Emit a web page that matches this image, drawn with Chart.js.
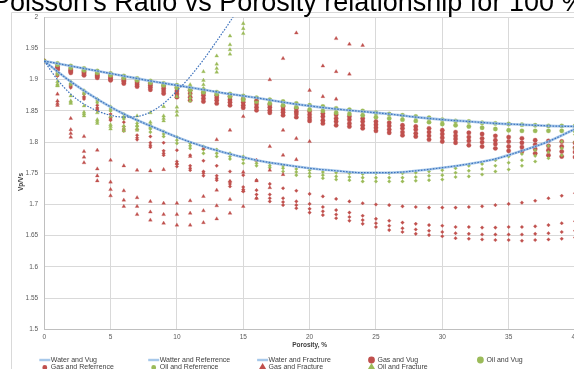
<!DOCTYPE html>
<html>
<head>
<meta charset="utf-8">
<script src="https://cdn.jsdelivr.net/npm/chart.js@4.4.1/dist/chart.umd.min.js"></script>
<style>
  html, body { margin: 0; padding: 0; background: #fff; overflow: hidden; width: 574px; height: 369px; }
  #wrap { position: absolute; left: 0; top: 0; width: 640px; height: 369px; }
</style>
</head>
<body>
<div id="wrap"><canvas id="chart" width="640" height="369"></canvas></div>
<script>
const titleText = "Poisson's Ratio vs Porosity relationship for 100 %";
const xTitle = 'Porosity, %';
const yTitle = 'Vp/Vs';

const xTicks = [0, 5, 10, 15, 20, 25, 30, 35, 40];
const yTicks = [1.5, 1.55, 1.6, 1.65, 1.7, 1.75, 1.8, 1.85, 1.9, 1.95, 2];

// porosity columns for the scatter series
const porosity = [0,1,2,3,4,5,6,7,8,9,10,11,12,13,14,15,16,17,18,19,20,
  21,22,23,24,25,26,27,28,29,30,31,32,33,34,35,36,37,38,39,40];

// water curves
const curveX = [0,2,4,6,8,10,12,14,16,18,20,22,24,26,28,30,32,34,36,38,40];
const waterVug = [1.930,1.922,1.914,1.906,1.898,1.891,1.884,1.877,1.871,1.864,1.858,
  1.853,1.849,1.845,1.840,1.836,1.833,1.830,1.828,1.826,1.825];
const waterRef = [1.930,1.897,1.869,1.845,1.826,1.808,1.793,1.781,1.771,1.764,1.758,
  1.754,1.751,1.751,1.754,1.759,1.765,1.773,1.786,1.801,1.821];
const fracX = [0,1,2,3,4,5,6,7,8,9,10,11,12,13,14,15];
const waterFrac = [1.930,1.900,1.877,1.861,1.850,1.843,1.840,1.841,1.848,1.862,1.882,
  1.905,1.932,1.962,1.993,2.026];

// one row of Vp/Vs values per porosity column
const oilVug = [
  [1.930],[1.926,1.924],[1.922,1.919],[1.918,1.915],[1.914,1.911],[1.910,1.907],
  [1.906,1.903],[1.902,1.899],[1.898,1.895],[1.894,1.891],[1.891,1.887],
  [1.887,1.883],[1.884,1.880],[1.880,1.877],[1.877,1.873],[1.874,1.868],
  [1.871,1.865],[1.868,1.862],[1.865,1.859],[1.862,1.856],[1.859,1.852],
  [1.857,1.850],[1.854,1.847],[1.852,1.845],[1.850,1.843],[1.847,1.840],
  [1.845,1.838],[1.843,1.836],[1.841,1.834],[1.839,1.832],[1.836,1.829],
  [1.834,1.827],[1.833,1.825],[1.831,1.823],[1.830,1.821],[1.829,1.819],
  [1.828,1.818],[1.827,1.818],[1.826,1.818],[1.826,1.818],[1.826,1.818]
];
const gasVug = [
  [1.930],
  [1.921,1.919,1.917,1.916],[1.917,1.915,1.913,1.911],[1.913,1.911,1.909,1.907],
  [1.909,1.907,1.905,1.903],[1.906,1.903,1.901,1.899],[1.902,1.899,1.897,1.894],
  [1.898,1.895,1.892,1.889],[1.894,1.891,1.888,1.884],[1.890,1.886,1.882,1.878],
  [1.887,1.882,1.877,1.872],[1.883,1.878,1.872,1.867],[1.879,1.875,1.870,1.865],
  [1.875,1.871,1.867,1.862],[1.873,1.868,1.864,1.859],[1.869,1.864,1.859,1.855],
  [1.866,1.861,1.856,1.851],[1.860,1.856,1.851,1.847],[1.857,1.852,1.848,1.843],
  [1.854,1.849,1.845,1.840],[1.849,1.844,1.839,1.834],[1.846,1.841,1.835,1.830],
  [1.844,1.838,1.833,1.827],[1.841,1.836,1.830,1.825],[1.838,1.833,1.827,1.822],
  [1.833,1.828,1.823,1.818],[1.831,1.826,1.820,1.815],[1.827,1.822,1.816,1.811],
  [1.825,1.820,1.814,1.809],[1.822,1.816,1.810,1.804],[1.819,1.813,1.807,1.801],
  [1.816,1.810,1.805,1.799],[1.815,1.808,1.802,1.795],[1.813,1.806,1.800,1.793],
  [1.810,1.803,1.797,1.790],[1.808,1.801,1.793,1.786],[1.806,1.799,1.792,1.785],
  [1.803,1.796,1.789,1.782],[1.802,1.794,1.787,1.779],[1.801,1.793,1.785,1.777],
  [1.799,1.791,1.784,1.776]
];
const oilRef = [
  [1.930],
  [1.912,1.910,1.908],[1.897,1.894,1.892],[1.883,1.880,1.877],[1.869,1.866,1.863],
  [1.857,1.853,1.850],[1.845,1.841,1.837],[1.835,1.830,1.826],[1.826,1.821,1.816],
  [1.817,1.813,1.809],[1.808,1.803,1.798],[1.798,1.794,1.790],[1.793,1.788,1.782],
  [1.788,1.782,1.777],[1.782,1.777,1.773],[1.777,1.772,1.766],[1.770,1.766,1.762],
  [1.766,1.762,1.759],[1.762,1.758,1.753],[1.757,1.752,1.747],[1.755,1.750,1.745],
  [1.752,1.747,1.742],[1.751,1.745,1.740],[1.750,1.744,1.739],[1.749,1.743,1.737],
  [1.750,1.743,1.737],[1.750,1.743,1.737],[1.750,1.743,1.737],[1.751,1.744,1.738],
  [1.753,1.746,1.739],[1.755,1.747,1.740],[1.758,1.751,1.744],[1.762,1.754,1.745],
  [1.765,1.757,1.748],[1.771,1.762,1.753],[1.777,1.767,1.756],[1.781,1.771,1.762],
  [1.787,1.778,1.769],[1.794,1.784,1.774],[1.801,1.790,1.779],[1.812,1.800,1.790]
];
const gasRef = [
  [1.930],
  [1.910,1.908,1.907,1.906],[1.893,1.891,1.889,1.887],[1.877,1.873,1.871,1.869],
  [1.859,1.855,1.853,1.851],[1.845,1.840,1.837,1.835],[1.832,1.825,1.821,1.818],
  [1.820,1.811,1.807,1.804],[1.809,1.799,1.795,1.792],[1.799,1.786,1.782,1.779],
  [1.787,1.769,1.765,1.761],[1.779,1.762,1.758,1.755],[1.770,1.753,1.750,1.746],
  [1.762,1.746,1.742,1.739],[1.753,1.737,1.733,1.729],[1.747,1.728,1.724,1.721],
  [1.739,1.723,1.716,1.710],[1.733,1.716,1.710,1.705],[1.726,1.710,1.704,1.699],
  [1.722,1.705,1.699,1.694],[1.717,1.701,1.693,1.687],[1.713,1.696,1.689,1.683],
  [1.709,1.691,1.684,1.678],[1.705,1.687,1.680,1.674],[1.702,1.682,1.675,1.669],
  [1.700,1.677,1.670,1.664],[1.699,1.674,1.666,1.659],[1.697,1.671,1.662,1.656],
  [1.696,1.669,1.660,1.653],[1.695,1.667,1.658,1.651],[1.695,1.666,1.656,1.649],
  [1.695,1.664,1.654,1.646],[1.696,1.664,1.653,1.645],[1.697,1.663,1.652,1.644],
  [1.699,1.663,1.652,1.643],[1.701,1.664,1.652,1.643],[1.703,1.664,1.652,1.642],
  [1.706,1.665,1.653,1.643],[1.710,1.667,1.654,1.644],[1.714,1.670,1.656,1.645],
  [1.718,1.673,1.658,1.647]
];
const oilFrac = [
  [1.930],
  [1.897,1.893,1.891,1.890],[1.874,1.866,1.864,1.862],[1.858,1.848,1.845,1.842],
  [1.847,1.836,1.833,1.830],[1.841,1.828,1.825,1.821],[1.840,1.826,1.822,1.818],
  [1.842,1.826,1.822,1.819],[1.847,1.832,1.828,1.824],[1.857,1.842,1.838,1.834],
  [1.873,1.856,1.849,1.843],[1.892,1.877,1.871,1.866],[1.913,1.899,1.892,1.886],
  [1.938,1.925,1.918,1.912],[1.970,1.956,1.948,1.941],[1.990,1.982,1.974]
];
const gasFrac = [
  [1.930],
  [1.877,1.866,1.862,1.859],[1.838,1.820,1.814,1.808],[1.809,1.785,1.776,1.767],
  [1.787,1.757,1.746,1.738],[1.771,1.736,1.724,1.714],[1.762,1.722,1.707,1.697],
  [1.755,1.711,1.697,1.684],[1.754,1.705,1.688,1.675],[1.756,1.702,1.684,1.670],
  [1.766,1.702,1.684,1.667],[1.777,1.706,1.686,1.667],[1.790,1.713,1.690,1.671],
  [1.804,1.723,1.698,1.677],[1.819,1.737,1.708,1.686],[1.841,1.752,1.722,1.697],
  [1.868,1.771,1.738,1.710],[1.900,1.793,1.755,1.727],[1.934,1.819,1.779,1.748],
  [1.975,1.849,1.806,1.772],[1.883,1.837,1.801],[1.922,1.873,1.834],
  [1.966,1.913,1.869],[1.957,1.909],[1.955]
];

const legendRows = [
  ['Water and Vug', 'Watter and Referrence', 'Water and Fractrure', 'Gas and Vug', 'Oil and Vug'],
  ['Gas and Referrence', 'Oil and Referrence', 'Gas and Fracture', 'Oil and Fracture']
];

const RED = '#C0504D';
const GREEN = '#9BBB59';
const HALO = 'rgba(150,190,230,0.85)';
const DOT = '#3F73BD';
const FONT = '"Liberation Sans", Arial, sans-serif';

function toPoints(xs, rows) {
  const pts = [];
  rows.forEach((r, i) => r.forEach(v => pts.push({ x: xs[i], y: v })));
  return pts;
}
function toLine(xs, ys) {
  return ys.map((v, i) => ({ x: xs[i], y: v }));
}

function lineSet(label, xs, ys, halo) {
  return {
    label, data: toLine(xs, ys), showLine: true, pointRadius: 0,
    borderColor: halo ? HALO : DOT, borderWidth: halo ? 2.6 : 1.2,
    borderDash: halo ? [] : [1.6, 1.4], cubicInterpolationMode: 'monotone'
  };
}
function markSet(label, rows, color, style, r) {
  return {
    label, data: toPoints(porosity, rows), showLine: false,
    pointStyle: style, pointRadius: r, backgroundColor: color,
    borderColor: color, borderWidth: 0.3
  };
}

// legend symbol for each label
const legendStyle = {
  'Water and Vug': ['line'], 'Watter and Referrence': ['line'], 'Water and Fractrure': ['line'],
  'Gas and Vug': ['circle', RED, 2.2], 'Oil and Vug': ['circle', GREEN, 2.2],
  'Gas and Referrence': ['circle', RED, 1.2], 'Oil and Referrence': ['circle', GREEN, 1.2],
  'Gas and Fracture': ['triangle', RED, 2.2], 'Oil and Fracture': ['triangle', GREEN, 2.2]
};

const decor = {
  id: 'decor',
  beforeDraw(chart) {
    const c = chart.ctx;
    c.save();
    c.strokeStyle = '#d9d9d9';
    c.lineWidth = 1;
    c.beginPath();
    c.moveTo(11.5, 369); c.lineTo(11.5, 12.5); c.lineTo(640, 12.5);
    c.stroke();
    c.restore();
  },
  afterDraw(chart) {
    const c = chart.ctx;
    const a = chart.chartArea;
    c.save();
    // title (partly outside the picture, as in the source)
    c.fillStyle = '#000';
    c.font = '27px ' + FONT;
    c.textAlign = 'left';
    c.textBaseline = 'alphabetic';
    c.fillText(titleText, -8, 11);

    // axis titles
    c.fillStyle = '#404040';
    c.font = 'bold 6.5px ' + FONT;
    c.textAlign = 'center';
    c.textBaseline = 'middle';
    c.fillText(xTitle, (a.left + a.right) / 2, 345.5);
    c.save();
    c.translate(21, 182);
    c.rotate(-Math.PI / 2);
    c.fillText(yTitle, 0, 0);
    c.restore();

    // legend grid
    c.font = '7px ' + FONT;
    c.textAlign = 'left';
    const rowY = [360, 367.5];
    legendRows.forEach((row, ri) => {
      row.forEach((label, ci) => {
        const x0 = 39.3 + ci * 108.9;
        const y = rowY[ri];
        const st = legendStyle[label];
        if (st[0] === 'line') {
          c.strokeStyle = HALO;
          c.lineWidth = 2.4;
          c.beginPath(); c.moveTo(x0, y); c.lineTo(x0 + 11, y); c.stroke();
        } else {
          c.fillStyle = st[1];
          c.strokeStyle = st[1];
          Chart.helpers.drawPoint(c, { pointStyle: st[0], radius: st[2], rotation: 0, borderWidth: 0.3 }, x0 + 5.5, y);
        }
        c.fillStyle = '#404040';
        c.fillText(label, x0 + 11.5, y);
      });
    });
    c.restore();
  }
};

Chart.defaults.font.family = FONT;

new Chart(document.getElementById('chart'), {
  type: 'scatter',
  data: {
    datasets: [
      lineSet('Water and Vug trend', curveX, waterVug, false),
      lineSet('Watter and Referrence trend', curveX, waterRef, false),
      lineSet('Water and Fractrure', fracX, waterFrac, false),
      lineSet('Water and Vug', curveX, waterVug, true),
      lineSet('Watter and Referrence', curveX, waterRef, true),
      markSet('Oil and Fracture', oilFrac, GREEN, 'triangle', 2.2),
      markSet('Gas and Fracture', gasFrac, RED, 'triangle', 2.2),
      markSet('Oil and Referrence', oilRef, GREEN, 'rectRot', 1.8),
      markSet('Gas and Referrence', gasRef, RED, 'rectRot', 1.8),
      markSet('Oil and Vug', oilVug, GREEN, 'circle', 2.2),
      markSet('Gas and Vug', gasVug, RED, 'circle', 2.2)
    ]
  },
  options: {
    responsive: false,
    devicePixelRatio: 1,
    animation: false,
    events: [],
    layout: { padding: { top: 17.3, right: 65, bottom: 0, left: 0 } },
    plugins: { legend: { display: false }, tooltip: { enabled: false }, title: { display: false } },
    scales: {
      x: {
        type: 'linear', min: 0, max: 40,
        afterBuildTicks: s => { s.ticks = xTicks.map(v => ({ value: v })); },
        afterFit: s => { s.height = 39.7; },
        ticks: { color: '#595959', font: { size: 6.5 }, padding: 4.5, maxRotation: 0 },
        grid: { color: '#d9d9d9', drawTicks: false },
        border: { color: '#bfbfbf' }
      },
      y: {
        min: 1.5, max: 2,
        afterBuildTicks: s => { s.ticks = yTicks.map(v => ({ value: v })); },
        afterFit: s => { s.width = 44.2; },
        ticks: { color: '#595959', font: { size: 6.5 }, padding: 6, callback: v => String(+v.toFixed(2)) },
        grid: { color: '#d9d9d9', drawTicks: false },
        border: { color: '#bfbfbf' }
      }
    }
  },
  plugins: [decor]
});
</script>
</body>
</html>
